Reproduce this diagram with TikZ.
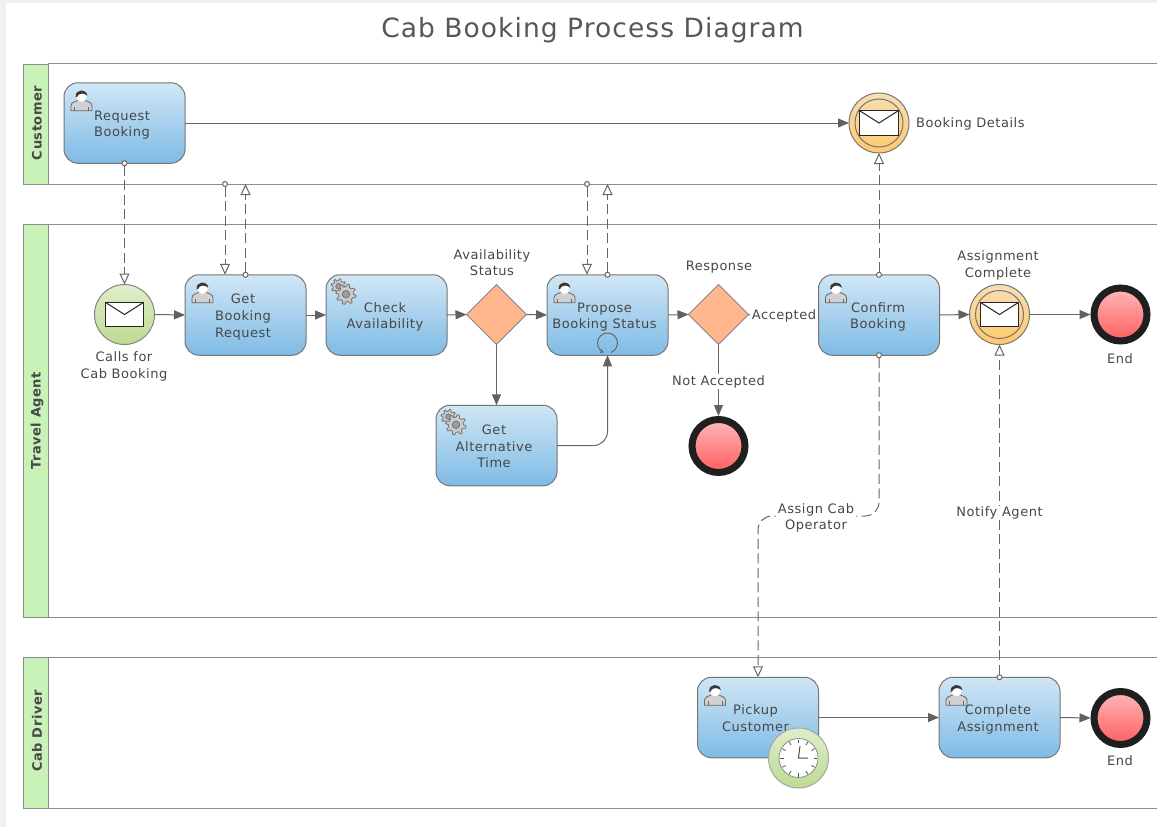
\documentclass[tikz,border=0pt]{standalone}
\usepackage{fontspec}
\setmainfont[LetterSpace=4]{DejaVu Sans}
\usetikzlibrary{arrows.meta,shapes.geometric}
\definecolor{edgeC}{HTML}{666666}
\definecolor{txtC}{HTML}{474747}
\definecolor{laneC}{HTML}{C9F2B8}
\definecolor{laneL}{HTML}{8C8C8C}
\definecolor{blueTop}{HTML}{D0E6F5}
\definecolor{blueBot}{HTML}{7FBBE5}
\definecolor{grnTop}{HTML}{E0EDCB}
\definecolor{grnBot}{HTML}{BDDB8F}
\definecolor{orgTop}{HTML}{F8DEB4}
\definecolor{orgBot}{HTML}{FFC96C}
\definecolor{redTop}{HTML}{FFB8B8}
\definecolor{redBot}{HTML}{FF5E5E}
\definecolor{gateC}{HTML}{FFB68D}
\newcommand\ttxt[2]{\makebox[0pt]{\hspace{#1}\smash{\raisebox{-5.2pt}{\fontsize{13}{16.6}\selectfont\begin{tabular}{@{}c@{}}#2\end{tabular}}}}}
\tikzset{
  x=1pt,y=-1pt,
  lanehead/.style={rectangle,draw=laneL,line width=1pt,fill=laneC,anchor=north west,minimum width=25pt,inner sep=0pt},
  lanetitle/.style={rotate=90,text=txtC,font=\fontsize{13}{14}\selectfont\bfseries,inner sep=0pt},
  laneline/.style={draw=laneL,line width=1pt},
  taskbox/.style={rectangle,rounded corners=14pt,draw=edgeC!90,line width=1pt,top color=blueTop,bottom color=blueBot,minimum width=121pt,minimum height=80.5pt,inner sep=0pt,text=txtC,outer sep=0pt},
  startev/.style={circle,draw=edgeC!80,line width=1pt,top color=grnTop,bottom color=grnBot,minimum size=60pt,inner sep=0pt,outer sep=0pt},
  interev/.style={circle,draw=edgeC!90,line width=1pt,top color=orgTop,bottom color=orgBot,minimum size=60pt,inner sep=0pt,outer sep=0pt},
  endev/.style={circle,draw=black!88,line width=7pt,top color=redTop,bottom color=redBot,minimum size=53pt,inner sep=0pt},
  gateway/.style={diamond,aspect=1,draw=edgeC!80,line width=1pt,fill=gateC,minimum size=60pt,inner sep=0pt,outer sep=0pt},
  flow/.style={draw=edgeC,line width=1pt,-{Triangle[length=11pt,width=9pt,color=edgeC!95!black]}},
  msg/.style={draw=edgeC,line width=1pt,dash pattern=on 10pt off 4.5pt,shorten <=-3pt,
     {Circle[length=6pt,width=6pt,fill=white,color=edgeC,sep=0pt]}-{Triangle[length=11pt,width=10pt,fill=white,color=edgeC]}},
  lbl/.style={text=txtC,font=\fontsize{13}{16.6}\selectfont,align=center,inner sep=0pt},
  lblw/.style={lbl,fill=white,inner xsep=1.5pt,inner ysep=1pt},
  pics/person/.style={code={
    \draw[draw=edgeC,line width=.8pt,fill=black!18] (-10.5,11) -- (-10.5,6) .. controls (-10.5,2.5) and (-6,2) .. (-3.5,0.5) -- (3.5,0.5) .. controls (6,2) and (10.5,2.5) .. (10.5,6) -- (10.5,11) -- cycle;
    \draw[draw=edgeC,line width=.5pt] (-7,11) -- (-7,7) (7,11) -- (7,7);
    \fill[white] (0,-3) circle[radius=5.2];
    \fill[black!78] (-5.8,-2.5) .. controls (-7,-10.5) and (5,-12) .. (5.8,-4) .. controls (3,-6.5) and (-1,-7) .. (-3.5,-4.5) .. controls (-4,-3) and (-4.5,-1.5) .. (-5.8,-2.5) -- cycle;
  }},
  pics/cog/.style={code={
    \draw[draw=black!55,line width=.8pt,fill=black!20]
      (0:#1) \foreach \a in {0,45,...,315} { -- (\a+0:#1) -- (\a+7:#1*1.35) -- (\a+20:#1*1.35) -- (\a+27:#1) } -- cycle;
    \draw[draw=black!55,line width=.8pt,fill=black!38] (0,0) circle[radius=#1*.5];
  }},
  pics/gears/.style={code={
    \pic at (-5,-5.5) {cog=5.5};
    \pic at (2.5,2.5) {cog=7.5};
  }},
  pics/envelope/.style={code={
    \draw[draw=black!85,line width=1pt,fill=white] (-19.2,-12.2) rectangle (19.2,12.2);
    \draw[draw=black!85,line width=1pt] (-19.2,-12.2) -- (0,0) -- (19.2,-12.2);
  }},
  pics/clock/.style={code={
    \fill[white] (0,0) circle[radius=19.5];
    \draw[draw=black!45,line width=.8pt] (0,0) circle[radius=19.5];
    \foreach \a in {0,30,...,330}{\draw[draw=black!70,line width=.8pt] (\a:15) -- (\a:18.5);}
    \draw[draw=black!70,line width=1pt] (1.5,-12) -- (0,0) -- (9.5,0);
  }},
}
\begin{document}
\begin{tikzpicture}
\useasboundingbox (0,0) rectangle (1157,827);
\fill[black!6] (0,0) rectangle (1157,827);
\fill[white] (6,3) rectangle (1157,827);

% title
\node[text=black!66,font=\fontsize{26.5}{32}\selectfont,inner sep=0pt] (title) at (592.5,30) {Cab Booking Process Diagram};

% lanes
\draw[laneline] (48,63.7) -- (1157,63.7) (48,184) -- (1157,184);
\draw[laneline] (48,224) -- (1157,224) (48,617) -- (1157,617);
\draw[laneline] (48,657) -- (1157,657) (48,808) -- (1157,808);
\node[lanehead,minimum height=120.3pt] (laneA) at (23,63.7) {};
\node[lanehead,minimum height=393pt] (laneB) at (23,224) {};
\node[lanehead,minimum height=151pt] (laneD) at (23,657) {};
\node[lanetitle] (tA) at (37,123) {Customer};
\node[lanetitle] (tB) at (37,421) {Travel Agent};
\node[lanetitle] (tC) at (37,731) {Cab Driver};

% tasks
\node[taskbox] (rb) at (124.5,123) {\ttxt{-5pt}{Request\\Booking}};
\node[taskbox] (gb) at (245.5,315) {\ttxt{-5pt}{Get\\Booking\\Request}};
\node[taskbox] (ca) at (386.5,315) {\ttxt{-3pt}{Check\\Availability}};
\node[taskbox] (pb) at (607.5,315) {\ttxt{-6pt}{Propose\\Booking Status}};
\node[taskbox] (ga) at (496.5,445.5) {\ttxt{-5pt}{Get\\Alternative\\Time}};
\node[taskbox] (cb) at (879,315) {\ttxt{-2pt}{Confirm\\Booking}};
\node[taskbox] (pc) at (758,717.5) {\ttxt{-5pt}{Pickup\\Customer}};
\node[taskbox] (ct) at (999.5,717.5) {\ttxt{-3pt}{Complete\\Assignment}};

% events and gateways
\node[startev] (se) at (124.5,314.5) {};
\node[interev] (bd) at (879,123) {};
\node[interev] (ae) at (999.5,314.5) {};
\draw[draw=edgeC!90,line width=1pt] (bd.center) circle[radius=24];
\draw[draw=edgeC!90,line width=1pt] (ae.center) circle[radius=24];
\node[gateway] (g1) at (496.5,314.5) {};
\node[gateway] (g2) at (718.5,314.5) {};
\node[endev] (e1) at (1120.5,314.5) {};
\node[endev] (e2) at (718.5,446) {};
\node[endev] (e3) at (1120.5,718) {};

% sequence flows
\draw[flow] (rb.east) -- (bd.west);
\draw[flow] (se.east) -- (gb.west);
\draw[flow] (gb.east) -- (ca.west);
\draw[flow] (ca.east) -- (g1.west);
\draw[flow] (g1.east) -- (pb.west);
\draw[flow] (pb.east) -- (g2.west);
\draw[flow] (g2.east) -- (cb.west);
\draw[flow] (cb.east) -- (ae.west);
\draw[flow] (ae.east) -- (e1.west);
\draw[flow] (g1.south) -- (ga.north);
\draw[flow] (g2.south) -- (e2.north);
\draw[flow,rounded corners=14pt] (ga.east) -| (pb.south);
\draw[flow] (pc.east) -- (ct.west);
\draw[flow] (ct.east) -- (e3.west);

% message flows
\coordinate (m1) at (225,184);
\coordinate (m2) at (587,184);
\coordinate (m3) at (816,516);
\draw[msg] (rb.south) -- (se.north);
\draw[msg] (m1) -- (m1 |- gb.north);
\draw[msg] (gb.north) -- (gb.north |- m1);
\draw[msg] (m2) -- (m2 |- pb.north);
\draw[msg] (pb.north) -- (pb.north |- m2);
\draw[msg] (cb.north) -- (bd.south);
\draw[msg,rounded corners=14pt] (cb.south) |- (m3) -| (pc.north);
\draw[msg] (ct.north) -- (ae.south);

% labels
\node[lbl] (l1) at (124,366.5) {Calls for\\Cab Booking};
\node[lbl] (l2) at (492,262.5) {Availability\\Status};
\node[lbl] (l3) at (719,267) {Response};
\node[lbl] (l4) at (998,265.5) {Assignment\\Complete};
\node[lbl,anchor=west] (l5) at (916,124) {Booking Details};
\node[lbl] (l6) at (1120,359) {End};
\node[lbl] (l7) at (1120,761) {End};
\node[lblw] (l8) at (784,316) {Accepted};
\node[lblw] (l9) at (718.5,381.5) {Not Accepted};
\node[lblw] (l10) at (816,518) {Assign Cab\\Operator};
\node[lblw] (l11) at (999.5,513) {Notify Agent};

% markers
\pic at (se.center) {envelope};
\pic at (bd.center) {envelope};
\pic at (ae.center) {envelope};
\foreach \t in {rb,gb,pb,cb,pc,ct}{\pic at ([shift={(17.5,17)}]\t.north west) {person};}
\foreach \t in {ca,ga}{\pic at ([shift={(17.5,17)}]\t.north west) {gears};}
\draw[draw=edgeC,line width=1pt,-{Stealth[length=4pt,width=4pt]}] ([shift={(3.4,37.4)}]pb.center) arc[start angle=70,end angle=-250,radius=10];
\node[startev,draw=black!35] (tm) at (798.5,758) {};
\pic at (tm.center) {clock};
\end{tikzpicture}
\end{document}
